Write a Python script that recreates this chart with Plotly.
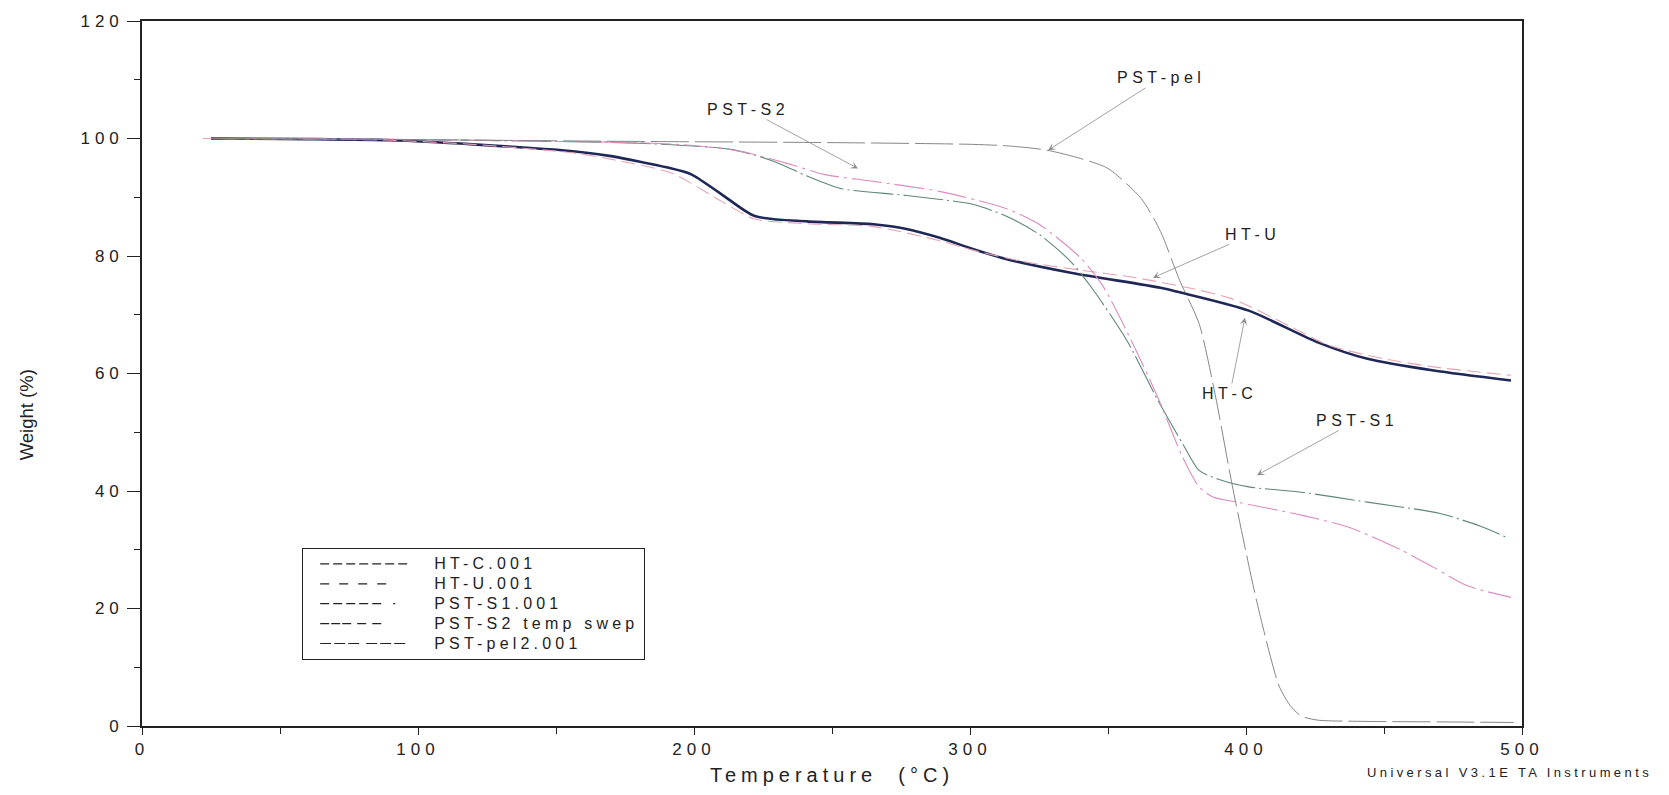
import plotly.graph_objects as go

# ---------------- data ----------------
htc_T = [25, 60, 90, 120, 157, 170, 180, 190, 199, 210, 222, 241, 265, 277, 289, 301, 313, 337, 369, 377, 401, 426, 444, 468, 496]
htc_W = [100, 99.9, 99.7, 99.0, 97.8, 97.0, 96.1, 95.1, 93.9, 90.5, 86.8, 85.9, 85.4, 84.6, 83.1, 81.2, 79.5, 77.1, 74.6, 73.7, 70.7, 65.3, 62.5, 60.5, 58.8]

htu_T = [22, 60, 90, 120, 157, 175, 192, 210, 222, 241, 265, 289, 301, 320, 340, 360, 380, 395, 417, 430, 450, 470, 496]
htu_W = [100, 99.9, 99.7, 99.0, 97.5, 96.0, 94.1, 89.3, 86.3, 85.5, 85.0, 82.6, 81.0, 79.0, 77.6, 76.3, 74.5, 72.7, 67.8, 64.8, 62.5, 61.0, 59.7]

s1_T = [25, 80, 120, 150, 180, 214, 229, 241, 253, 277, 301, 313, 325, 337, 345, 357, 368, 377, 383, 390, 401, 420, 444, 470, 485, 494]
s1_W = [100, 99.9, 99.7, 99.5, 99.2, 98.1, 96.1, 93.6, 91.5, 90.3, 88.8, 86.8, 83.7, 78.8, 74.0, 65.5, 55.5, 48.1, 43.5, 42.0, 40.7, 39.8, 38.1, 36.2, 34.0, 32.2]

s2_T = [25, 80, 120, 150, 180, 200, 217, 235, 247, 265, 289, 313, 325, 340, 348, 357, 368, 377, 383, 388, 398, 420, 438, 456, 468, 480, 496]
s2_W = [100, 99.9, 99.7, 99.5, 99.3, 98.8, 97.8, 95.6, 93.9, 92.7, 91.0, 88.1, 85.4, 79.7, 75.0, 67.0, 56.0, 45.8, 40.7, 39.0, 38.0, 35.9, 33.7, 30.0, 27.0, 23.9, 21.9]

pel_T = [25, 100, 180, 250, 301, 315, 328, 340, 350, 362, 369, 376, 383, 389, 395, 404, 412, 416, 420, 426, 440, 470, 497]
pel_W = [100, 99.8, 99.5, 99.3, 99.0, 98.7, 98.0, 96.6, 94.9, 89.8, 84.2, 75.8, 68.5, 56.0, 41.0, 21.0, 6.8, 3.5, 1.7, 1.0, 0.8, 0.7, 0.6]

legend_names = ["HT-C.001", "HT-U.001", "PST-S1.001", "PST-S2 temp swep", "PST-pel2.001"]

# labels with arrows: (text, head T, head W, text T, text W)
labels = [
    ("PST-pel", 328.3, 98.0, 369.2, 110.3),
    ("PST-S2", 259.4, 94.9, 219.6, 104.9),
    ("HT-U", 366.3, 76.3, 402.2, 83.7),
    ("HT-C", 399.6, 69.5, 394.2, 56.6),
    ("PST-S1", 404.0, 42.7, 440.2, 52.0),
]

x_ticks = [0, 100, 200, 300, 400, 500]
y_ticks = [0, 20, 40, 60, 80, 100, 120]

FONT = "Liberation Sans, Arial, sans-serif"
INK = "#222222"


def sp(text, ls, size=None):
    fs = f";font-size:{size}px" if size else ""
    return f'<span style="letter-spacing:{ls}px{fs}">{text}</span>'


fig = go.Figure()

curves = [
    (htc_T, htc_W, dict(color="#1f2757", width=2.6, dash="solid")),
    (htu_T, htu_W, dict(color="#e9a2b4", width=1.1, dash="14px,6px")),
    (s1_T, s1_W, dict(color="#5e8776", width=1.1, dash="40px,4px,2px,4px")),
    (s2_T, s2_W, dict(color="#dc8cc2", width=1.1, dash="30px,5px,3px,5px")),
    (pel_T, pel_W, dict(color="#868686", width=1.0, dash="38px,6px")),
]
for (T, W, ln), name in zip(curves, legend_names):
    fig.add_trace(go.Scatter(x=T, y=W, mode="lines", name=name, showlegend=False,
                             line=dict(shape="spline", smoothing=0.7, **ln)))

legend_dash = [
    "0px,12px,9px,4px,9px,4px,9px,4px,9px,4px,9px,4px,9px,4px,9px,60px",
    "0px,12px,9px,10px,9px,10px,9px,10px,9px,80px",
    "0px,12px,9px,4px,9px,4px,9px,4px,9px,4px,9px,12px,2px,80px",
    "0px,12px,9px,2px,9px,2px,9px,6px,9px,6px,9px,80px",
    "0px,12px,11px,3px,11px,3px,11px,7px,11px,3px,11px,3px,11px,80px",
]
for name, d in zip(legend_names, legend_dash):
    fig.add_trace(go.Scatter(x=[None], y=[None], mode="lines", name=sp(name, 4.2, 16),
                             line=dict(color=INK, width=1.2, dash=d)))

for text, hx, hy, tx, ty in labels:
    fig.add_annotation(x=hx, y=hy, ax=tx, ay=ty, axref="x", ayref="y",
                       text=sp(text, 4.5), showarrow=True, arrowhead=3,
                       arrowsize=1.6, arrowwidth=0.8, arrowcolor="#8a8a8a",
                       font=dict(family=FONT, size=16, color=INK))

# y axis title (placed as in the reference, slightly below the axis centre)
fig.add_annotation(x=0, y=(727 - 415) / 708, xref="paper", yref="paper",
                   xanchor="center", yanchor="middle", xshift=-116, textangle=-90,
                   text="Weight (%)", showarrow=False,
                   font=dict(family=FONT, size=18.5, color=INK))

fig.add_annotation(x=1.0, y=0, xref="paper", yref="paper", xanchor="right", yanchor="middle",
                   xshift=132, yshift=-46, text=sp("Universal V3.1E TA Instruments", 3.4),
                   showarrow=False, font=dict(family=FONT, size=13, color=INK))

fig.update_layout(
    width=1669, height=795,
    margin=dict(l=142, r=147, t=19, b=68),
    paper_bgcolor="white", plot_bgcolor="white",
    font=dict(family=FONT, color=INK),
    legend=dict(x=(302 - 142) / 1380, y=(727 - 548) / 708, xanchor="left", yanchor="top",
                bordercolor=INK, borderwidth=1.2, bgcolor="white",
                font=dict(family=FONT, size=13, color=INK),
                itemwidth=121, tracegroupgap=0),
)

fig.update_xaxes(range=[0, 500], tickvals=x_ticks, ticktext=[sp(str(v), 5) for v in x_ticks],
                 ticks="outside", ticklen=7, tickwidth=1, tickcolor=INK,
                 minor=dict(dtick=50, ticks="outside", ticklen=6, tickcolor=INK),
                 showgrid=False, zeroline=False, showline=True, linecolor=INK,
                 linewidth=1.6, mirror=True,
                 tickfont=dict(family=FONT, size=17, color=INK),
                 title=dict(text=sp("Temperature  (°C)", 5), standoff=10,
                            font=dict(family=FONT, size=20, color=INK)))
fig.update_yaxes(range=[0, 120], tickvals=y_ticks, ticktext=[sp(str(v), 5) for v in y_ticks],
                 ticks="outside", ticklen=13, tickwidth=1, tickcolor=INK,
                 minor=dict(dtick=10, ticks="outside", ticklen=6, tickcolor=INK),
                 showgrid=False, zeroline=False, showline=True, linecolor=INK,
                 linewidth=1.6, mirror=True,
                 tickfont=dict(family=FONT, size=17, color=INK))

fig.write_html("out.html", config={"displayModeBar": False},
               post_script="document.body.style.margin='0';")
